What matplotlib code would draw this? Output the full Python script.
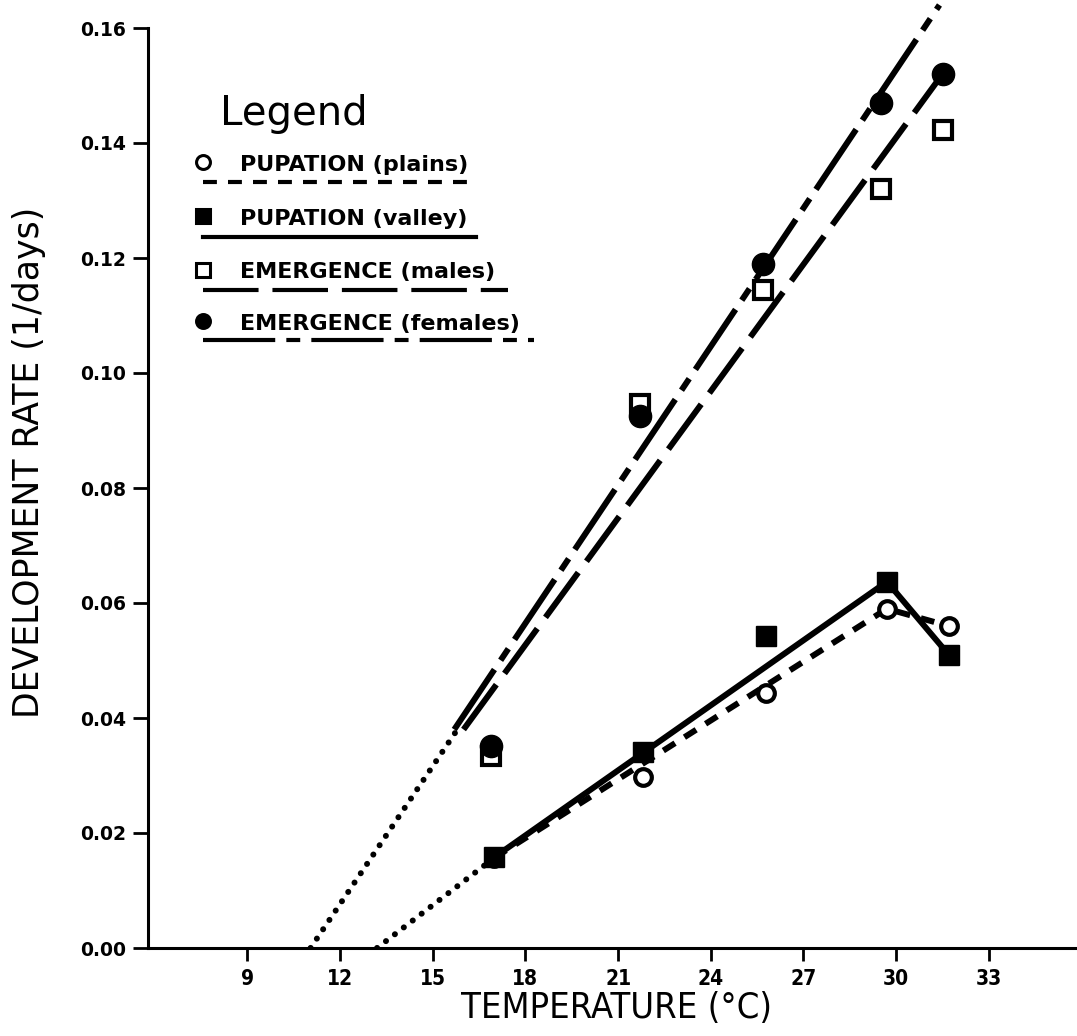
import matplotlib.pyplot as plt

plt.rcParams['lines.scale_dashes'] = False

# Rearing temperatures (deg C) and development rates (1/days)
pupa_temps = [17.0, 21.8, 25.8, 29.7, 31.7]
emerge_temps = [16.9, 21.7, 25.7, 29.5, 31.5]
pupation_plains = [0.0157, 0.0297, 0.0443, 0.0590, 0.0560]
pupation_valley = [0.0158, 0.0341, 0.0543, 0.0637, 0.0510]
emergence_males = [0.0334, 0.0946, 0.1144, 0.1320, 0.1423]
emergence_females = [0.0351, 0.0925, 0.1190, 0.1470, 0.1520]

# Fitted lines: threshold temperature and the ends of each fitted segment
pupation_threshold = 13.2
emergence_threshold = 11.05
plains_fit_x = [17.0, 29.7, 31.7]
plains_fit_y = [0.0157, 0.0590, 0.0560]
valley_fit_x = [17.0, 29.7, 31.7]
valley_fit_y = [0.0158, 0.0637, 0.0510]
males_fit_x = [16.0, 31.5]
males_fit_y = [0.0380, 0.1520]
females_fit_x = [15.7, 31.4]
females_fit_y = [0.0380, 0.1640]

xticks = [9, 12, 15, 18, 21, 24, 27, 30, 33]
yticks = [0.00, 0.02, 0.04, 0.06, 0.08, 0.10, 0.12, 0.14, 0.16]

fig = plt.figure(figsize=(10.77, 10.36), dpi=100)
ax = fig.add_axes([148 / 1077, 88 / 1036, 929 / 1077, 920 / 1036])

lw = 4.3
k = 'black'
dash_plains = (0, (10, 8))
dash_males = (0, (40, 10))
dash_females = (0, (52, 8, 10, 8))
dots = (0, (0.1, 8))

# extrapolation to the threshold temperatures
ax.plot([pupation_threshold, plains_fit_x[0]], [0, plains_fit_y[0]], color=k, lw=lw,
        linestyle=dots, dash_capstyle='round')
ax.plot([emergence_threshold, 15.8], [0, 0.038], color=k, lw=lw,
        linestyle=dots, dash_capstyle='round')

# fitted lines
ax.plot(plains_fit_x, plains_fit_y, color=k, lw=lw, linestyle=dash_plains)
ax.plot(valley_fit_x, valley_fit_y, color=k, lw=lw, solid_joinstyle='miter')
ax.plot(males_fit_x, males_fit_y, color=k, lw=lw, linestyle=dash_males, clip_on=False)
ax.plot(females_fit_x, females_fit_y, color=k, lw=lw, linestyle=dash_females, clip_on=False)

# observations
ax.plot(pupa_temps, pupation_plains, 'o', ms=12, mfc='white', mec=k, mew=3, clip_on=False)
ax.plot(pupa_temps, pupation_valley, 's', ms=14, mfc=k, mec=k, clip_on=False)
ax.plot(emerge_temps, emergence_males, 's', ms=13, mfc='white', mec=k, mew=3, clip_on=False)
ax.plot(emerge_temps, emergence_females, 'o', ms=16, mfc=k, mec=k, clip_on=False)

ax.set_xlim(5.79, 35.85)
ax.set_ylim(0, 0.16)
ax.set_xticks(xticks)
ax.set_yticks(yticks)
ax.set_yticklabels(['%.2f' % v for v in yticks])
for s in ['top', 'right']:
    ax.spines[s].set_visible(False)
for s in ['left', 'bottom']:
    ax.spines[s].set_linewidth(2.2)
ax.tick_params(axis='x', direction='out', length=9, width=2, pad=6)
ax.tick_params(axis='y', direction='out', length=11, width=2, pad=5)
for lab in ax.get_yticklabels():
    lab.set_fontfamily(['DejaVu Sans'])
    lab.set_fontweight('bold')
    lab.set_fontsize(13.5)
for lab in ax.get_xticklabels():
    lab.set_fontfamily(['DejaVu Sans'])
    lab.set_fontstretch('condensed')
    lab.set_fontweight('bold')
    lab.set_fontsize(15)

ax.set_xlabel('TEMPERATURE (°C)', fontsize=26, family=['DejaVu Sans'],
              fontstretch='condensed', va='baseline')
ax.xaxis.set_label_coords(0.504, -0.0761)
ax.set_ylabel('DEVELOPMENT RATE (1/days)', fontsize=25, family=['DejaVu Sans'],
              va='center')
ax.yaxis.set_label_coords(-0.128, 0.528)

# hand-drawn style legend: marker, label, and an underline showing the line type
ax.text(0.078, 0.8946, 'Legend', transform=ax.transAxes, fontsize=29, va='baseline',
        family=['DejaVu Sans'])
rows = [
    ('PUPATION (plains)', 'o', 'white', dash_plains, 0.845, 0.833, 0.353),
    ('PUPATION (valley)', 's', k, '-', 0.786, 0.773, 0.353),
    ('EMERGENCE (males)', 's', 'white', dash_males, 0.728, 0.715, 0.388),
    ('EMERGENCE (females)', 'o', k, dash_females, 0.672, 0.661, 0.415),
]
for label, marker, face, style, base, ly, xend in rows:
    ax.plot([0.0595], [base + 0.0095], marker=marker, ms=10, mfc=face, mec=k, mew=2.2,
            transform=ax.transAxes, clip_on=False)
    ax.text(0.099, base, label, transform=ax.transAxes, fontsize=16, va='baseline',
            family=['DejaVu Sans'], fontweight='bold')
    ax.plot([0.059, xend], [ly, ly], color=k, lw=3, linestyle=style,
            transform=ax.transAxes, clip_on=False)

fig.savefig('out.png', dpi=100)
